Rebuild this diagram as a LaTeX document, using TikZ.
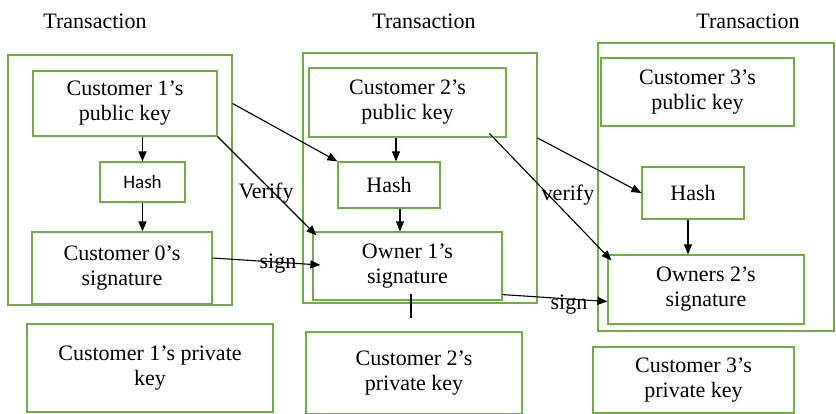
\documentclass[tikz,border=0pt]{standalone}
\usepackage{fontspec}
\setmainfont{Liberation Serif}
\newfontfamily\hashfont{Carlito}
\usetikzlibrary{arrows.meta}
\definecolor{boxgreen}{RGB}{112,173,71}
\tikzset{
  frame/.style={draw=boxgreen, line width=1.2pt, inner sep=0pt},
  box/.style={draw=boxgreen, line width=1.2pt, fill=white, inner sep=0pt, align=center,
              font=\fontsize{22}{25}\selectfont},
  lbl/.style={inner sep=0pt, font=\fontsize{22}{25}\selectfont},
  conn/.style={line width=1.1pt, -{Triangle[length=10pt,width=8pt]}}
}
\begin{document}
\begin{tikzpicture}[x=1pt,y=-1pt]
\useasboundingbox (0,0) rectangle (836,413);
% titles
\node[lbl] (titleA) at (95,21)  {Transaction};
\node[lbl] (titleB) at (424,21) {Transaction};
\node[lbl] (titleC) at (748,21) {Transaction};
% transaction frames
\node[frame, minimum width=224pt, minimum height=250pt] (frameA) at (120,180) {};
\node[frame, minimum width=234pt, minimum height=250pt] (frameB) at (420,178) {};
\node[frame, minimum width=236pt, minimum height=288pt] (frameC) at (716,187) {};
% first transaction
\node[box, minimum width=184pt, minimum height=65pt] (pubA)  at (125,103.5) {Customer 1’s\\public key};
\node[box, minimum width=85pt,  minimum height=40pt, font=\fontsize{19}{22}\hashfont] (hashA) at (142.5,182) {Hash};
\node[box, minimum width=180pt, minimum height=72pt] (sigA)  at (122,268) {Customer 0’s\\signature};
\node[box, minimum width=246pt, minimum height=88pt] (privA) at (150,368) {\raisebox{5pt}{\begin{tabular}{@{}c@{}}Customer 1’s private\\key\end{tabular}}};
% second transaction
\node[box, minimum width=197pt, minimum height=69pt] (pubB)  at (407.5,102.5) {Customer 2’s\\public key};
\node[box, minimum width=102pt, minimum height=46pt] (hashB) at (389,185) {Hash};
\node[box, minimum width=189pt, minimum height=68pt] (sigB)  at (407.5,266) {Owner 1’s\\signature};
\node[box, minimum width=216pt, minimum height=82pt] (privB) at (414,373) {Customer 2’s\\private key};
% third transaction
\node[box, minimum width=193pt, minimum height=68pt] (pubC)  at (697.5,92) {Customer 3’s\\public key};
\node[box, minimum width=102pt, minimum height=52pt] (hashC) at (693,193) {Hash};
\node[box, minimum width=196pt, minimum height=69pt] (sigC)  at (706,289.5) {Owners 2’s\\signature};
\node[box, minimum width=201pt, minimum height=66pt] (privC) at (693.5,380) {Customer 3’s\\private key};
% connectors
\draw[conn] (hashA.north |- pubA.south) -- (hashA.north);
\draw[conn] (hashA.south) -- (hashA.south |- sigA.north);
\draw[conn] (pubA.east -| frameA.east) -- (hashB.north west);
\draw[conn] (pubA.south east) -- ([xshift=4pt,yshift=-4pt]sigB.north west);
\draw[conn] ([yshift=10pt]sigA.east) -- ([xshift=8pt,yshift=1pt]sigB.west);
\draw[conn] ([xshift=7pt]hashB.north |- pubB.south) -- ([xshift=7pt]hashB.north);
\draw[conn] ([xshift=11pt]hashB.south) -- ([xshift=11pt]hashB.south |- sigB.north);
\draw[conn] ([xshift=-17pt,yshift=4pt]pubB.south east) -- ([xshift=4pt,yshift=-6pt]sigC.north west);
\draw[conn] ([yshift=40pt]frameB.east) -- (hashC.west);
\draw[conn] ([xshift=-5pt]hashC.south) -- ([xshift=-5pt]hashC.south |- sigC.north);
\draw[conn] ([yshift=6pt]sigB.south east) -- ([yshift=-12pt]sigC.west);
\draw[line width=1.1pt] ([xshift=3.5pt,yshift=7pt]sigB.south) -- ([xshift=3.5pt,yshift=-17pt]sigB.south);
% labels
\node[lbl] (verA)  at (266,193) {Verify};
\node[lbl] (signA) at (278,264) {sign};
\node[lbl] (verB)  at (568,195) {verify};
\node[lbl] (signB) at (569,305) {sign};
\end{tikzpicture}
\end{document}
